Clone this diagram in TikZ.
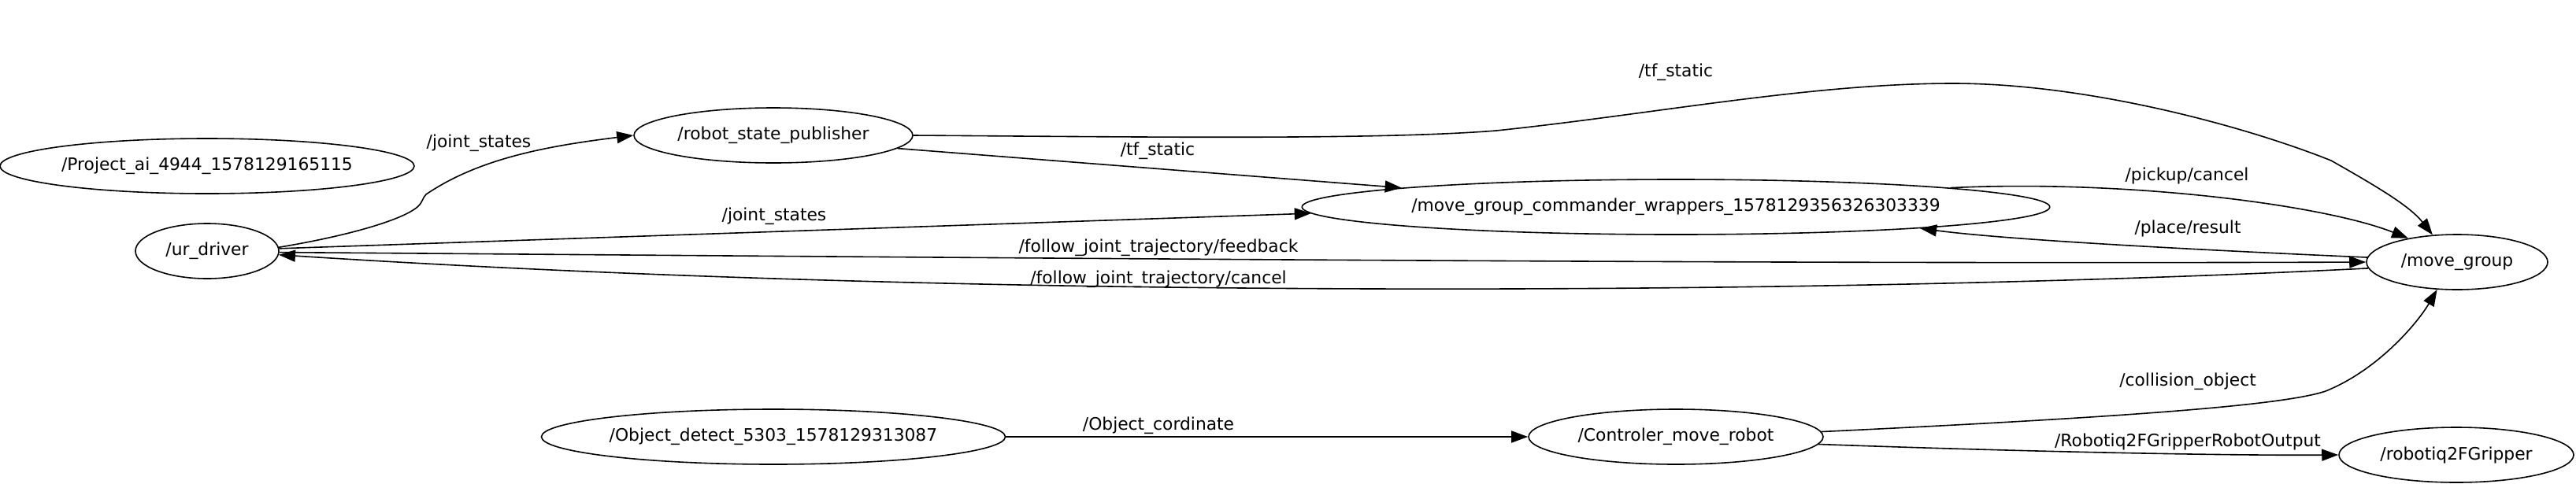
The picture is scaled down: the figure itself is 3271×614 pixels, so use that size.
\documentclass[tikz,border=0pt]{standalone}
\usepackage{fontspec}
\setmainfont{DejaVu Sans}
\usetikzlibrary{shapes.geometric,arrows.meta}
\begin{document}
\begin{tikzpicture}[x=1pt,y=-1pt,
  every node/.style={font=\fontsize{21.8pt}{26pt}\selectfont},
  rosnode/.style={draw,ellipse,line width=1.6pt,inner sep=0pt,minimum height=70pt},
  topic/.style={inner sep=0pt},
  edge/.style={line width=1.6pt,-{Triangle[length=21pt,width=15pt]}}]
\useasboundingbox[fill=white] (0,0) rectangle (3271,614);
% nodes
\node[rosnode,minimum width=526pt] (proj) at (263,211) {/Project\_ai\_4944\_1578129165115};
\node[rosnode,minimum width=182pt] (ur) at (263,319) {/ur\_driver};
\node[rosnode,minimum width=354pt] (rsp) at (982,172) {/robot\_state\_publisher};
\node[rosnode,minimum width=916pt] (mgcw) at (2128,263) {/move\_group\_commander\_wrappers\_1578129356326303339};
\node[rosnode,minimum width=230pt] (mg) at (3120,333) {/move\_group};
\node[rosnode,minimum width=580pt] (obj) at (982,555) {/Object\_detect\_5303\_1578129313087};
\node[rosnode,minimum width=374pt] (ctrl) at (2128,555) {/Controler\_move\_robot};
\node[rosnode,minimum width=298pt] (grip) at (3119,578) {/robotiq2FGripper};
% topic labels
\node[topic] (ljs1) at (608,182) {/joint\_states};
\node[topic] (ltf1) at (2128,92) {/tf\_static};
\node[topic] (ltf2) at (1470,192) {/tf\_static};
\node[topic] (ljs2) at (983,275) {/joint\_states};
\node[topic] (lfb) at (1471,315) {/follow\_joint\_trajectory/feedback};
\node[topic] (lcan) at (1471,355) {/follow\_joint\_trajectory/cancel};
\node[topic] (lpick) at (2777,223) {/pickup/cancel};
\node[topic] (lplace) at (2778,290) {/place/result};
\node[topic] (lobj) at (1471,541) {/Object\_cordinate};
\node[topic] (lcol) at (2778,485) {/collision\_object};
\node[topic] (lrob) at (2778,561) {/Robotiq2FGripperRobotOutput};
% connectors
\draw[edge] (ur.3) .. controls (440,300) and (510,280) .. (530,263)
  .. controls (537,257) and (536,252) .. (541,247)
  .. controls (610,200) and (700,185) .. (rsp.west);
\draw[edge] (rsp.east) .. controls (1450,174) and (1750,178) .. (1900,166)
  .. controls (2100,145) and (2300,106) .. (2480,106)
  .. controls (2650,106) and (2850,160) .. (2960,204)
  .. controls (3020,238) and (3060,262) .. (mg.132);
\draw[edge] (rsp.-6.5) -- (mgcw.176.5);
\draw[edge] (ur.2) -- (mgcw.181.7);
\draw[edge] (ur.-1) .. controls (1200,327) and (2200,336) .. (mg.west);
\draw[edge] (mg.184.5) .. controls (2400,372) and (1300,385) .. (ur.-3);
\draw[edge] (mgcw.4.7) .. controls (2700,228) and (2950,260) .. (mg.154);
\draw[edge] (mg.177.5) .. controls (2800,318) and (2550,305) .. (mgcw.-5.25);
\draw[edge] (obj.east) -- (ctrl.west);
\draw[edge] (ctrl.2.5) .. controls (2700,530) and (2900,515) .. (2953,497)
  .. controls (3020,470) and (3070,410) .. (mg.234.5);
\draw[edge] (ctrl.-3.5) .. controls (2600,575) and (2850,579) .. (grip.west);
\end{tikzpicture}
\end{document}
